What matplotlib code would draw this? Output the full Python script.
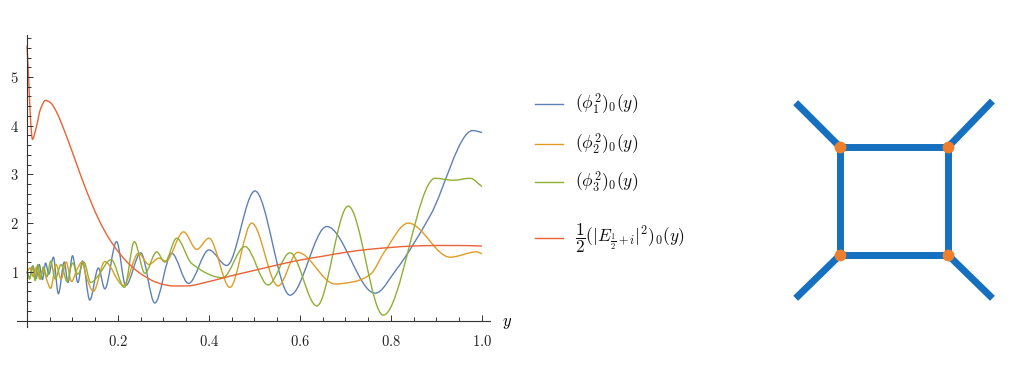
import numpy as np
import matplotlib
matplotlib.use("Agg")
import matplotlib.pyplot as plt
from matplotlib.path import Path
from matplotlib.patches import PathPatch
from matplotlib.lines import Line2D
from matplotlib.ticker import MultipleLocator, FixedLocator, FuncFormatter

plt.rcParams["mathtext.fontset"] = "cm"
plt.rcParams["font.family"] = ["cmr10", "DejaVu Serif"]

# values (extrema and a few in-between points)
phi1_x = [0, 0.006, 0.013, 0.020, 0.027, 0.034, 0.041, 0.048, 0.058, 0.069, 0.082, 0.090,
          0.100, 0.112, 0.122, 0.138, 0.157, 0.171, 0.197, 0.217, 0.250, 0.281, 0.318,
          0.355, 0.400, 0.439, 0.501, 0.578, 0.659, 0.765, 0.812, 0.886, 0.980, 1.0]
phi1_y = [1.0, 0.88, 1.12, 0.86, 1.15, 0.84, 1.18, 0.95, 1.3, 0.55, 1.2, 0.78,
          1.33, 0.78, 1.22, 0.42, 1.08, 0.65, 1.62, 0.72, 1.39, 0.36, 1.38,
          0.76, 1.45, 1.13, 2.66, 0.52, 1.93, 0.56, 1.05, 2.15, 3.9, 3.86]

phi2_x = [0, 0.007, 0.014, 0.021, 0.028, 0.036, 0.044, 0.052, 0.064, 0.075, 0.086, 0.098,
          0.110, 0.121, 0.132, 0.146, 0.171, 0.212, 0.245, 0.268, 0.290, 0.305, 0.344,
          0.373, 0.400, 0.446, 0.494, 0.552, 0.595, 0.677, 0.720, 0.755, 0.785, 0.838,
          0.930, 0.988, 1.0]
phi2_y = [1.0, 1.08, 0.9, 1.1, 0.85, 1.05, 0.82, 0.66, 1.15, 0.85, 1.2, 0.8,
          1.05, 1.2, 0.85, 0.6, 1.21, 0.72, 1.38, 1.15, 1.28, 1.22, 1.82,
          1.46, 1.69, 0.68, 2.0, 0.71, 1.4, 0.75, 0.8, 0.95, 1.4, 2.0,
          1.3, 1.41, 1.37]

phi3_x = [0, 0.006, 0.012, 0.018, 0.024, 0.030, 0.036, 0.044, 0.052, 0.062, 0.075, 0.088,
          0.100, 0.112, 0.125, 0.140, 0.155, 0.185, 0.214, 0.236, 0.259, 0.285, 0.303,
          0.329, 0.362, 0.430, 0.479, 0.530, 0.578, 0.637, 0.706, 0.783, 0.897, 0.937,
          0.974, 1.0]
phi3_y = [1.0, 0.85, 1.12, 0.82, 1.15, 0.85, 1.1, 0.9, 1.22, 0.85, 1.15, 0.8,
          1.18, 0.95, 1.2, 0.78, 0.9, 1.25, 0.68, 1.62, 0.97, 1.41, 1.2,
          1.69, 1.17, 0.88, 1.52, 0.73, 1.39, 0.3, 2.35, 0.11, 2.92, 2.88,
          2.92, 2.75]

e_x = [0.0, 0.004, 0.008, 0.012, 0.020, 0.030, 0.041, 0.052, 0.065, 0.080, 0.100, 0.120,
       0.140, 0.160, 0.180, 0.200, 0.220, 0.240, 0.260, 0.280, 0.300, 0.320, 0.350,
       0.400, 0.450, 0.500, 0.550, 0.600, 0.650, 0.700, 0.750, 0.800, 0.850, 0.900,
       0.950, 1.0]
e_y = [5.65, 4.9, 4.1, 3.72, 3.95, 4.35, 4.52, 4.47, 4.28, 3.95, 3.45, 2.93,
       2.45, 2.03, 1.69, 1.42, 1.2, 1.03, 0.9, 0.8, 0.74, 0.71, 0.71,
       0.8, 0.92, 1.03, 1.14, 1.24, 1.32, 1.4, 1.46, 1.5, 1.53, 1.54,
       1.54, 1.53]

labels = [r"$(\phi_1^2)_0(y)$", r"$(\phi_2^2)_0(y)$", r"$(\phi_3^2)_0(y)$",
          r"$\dfrac{1}{2}(|E_{\frac{1}{2}+i}|^2)_0(y)$"]
colors = ["#5E81B5", "#E19C24", "#8FB032", "#EB6235"]

# box diagram: square corners and the outer legs
node_x = [-1, 1, 1, -1]
node_y = [1, 1, -1, -1]
leg_x = [-1.82, 1.82, 1.82, -1.82]
leg_y = [1.82, 1.85, -1.8, -1.8]


def smooth_path(xs, ys):
    # monotone cubic through the read points, drawn as bezier segments
    x = np.asarray(xs, float)
    y = np.asarray(ys, float)
    h = np.diff(x)
    d = np.diff(y) / h
    m = np.zeros_like(y)
    m[0], m[-1] = d[0], d[-1]
    for i in range(1, len(x) - 1):
        if d[i - 1] * d[i] > 0:
            w1 = 2 * h[i] + h[i - 1]
            w2 = h[i] + 2 * h[i - 1]
            m[i] = (w1 + w2) / (w1 / d[i - 1] + w2 / d[i])
    verts = [(x[0], y[0])]
    codes = [Path.MOVETO]
    for i in range(len(x) - 1):
        verts += [(x[i] + h[i] / 3, y[i] + m[i] * h[i] / 3),
                  (x[i + 1] - h[i] / 3, y[i + 1] - m[i + 1] * h[i] / 3),
                  (x[i + 1], y[i + 1])]
        codes += [Path.CURVE4] * 3
    return Path(verts, codes)


fig = plt.figure(figsize=(10.24, 3.92), dpi=100)
ax = fig.add_axes([0.0163, 0.1666, 0.4622, 0.7441])

series = [(phi1_x, phi1_y), (phi2_x, phi2_y), (phi3_x, phi3_y), (e_x, e_y)]
for (sx, sy), c in zip(series, colors):
    ax.add_patch(PathPatch(smooth_path(sx, sy), fill=False, edgecolor=c, lw=1.0,
                           joinstyle="round"))

ax.set_xlim(-0.0226, 1.0176)
ax.set_ylim(-0.127, 5.862)
for s in ["top", "right"]:
    ax.spines[s].set_visible(False)
ax.spines["left"].set_position(("data", 0))
ax.spines["bottom"].set_position(("data", 0))
for s in ["left", "bottom"]:
    ax.spines[s].set_linewidth(0.8)
    ax.spines[s].set_color("#333333")

ax.xaxis.set_major_locator(FixedLocator([0.2, 0.4, 0.6, 0.8, 1.0]))
ax.xaxis.set_minor_locator(MultipleLocator(0.05))
ax.yaxis.set_major_locator(FixedLocator([1, 2, 3, 4, 5]))
ax.yaxis.set_minor_locator(MultipleLocator(0.2))
ax.xaxis.set_major_formatter(FuncFormatter(lambda v, p: f"${v:.1f}$"))
ax.yaxis.set_major_formatter(FuncFormatter(lambda v, p: f"${v:.0f}$"))
ax.tick_params(which="both", direction="in", color="#333333", width=0.7,
               labelsize=10.5, labelcolor="#222222")
ax.tick_params(which="major", length=4.5)
ax.tick_params(which="minor", length=2.6)
ax.tick_params(axis="x", pad=10)
ax.tick_params(axis="y", pad=6)
ax.text(1.055, -0.05, "$y$", fontsize=12, ha="center", va="center", clip_on=False)

# legend drawn by hand to keep the uneven spacing
leg_rows = [104, 144, 182, 238]
for yy, c, lab in zip(leg_rows, colors, labels):
    fy = 1 - yy / 392
    fig.add_artist(Line2D([535 / 1024, 563 / 1024], [fy, fy], color=c, lw=1.0,
                          transform=fig.transFigure))
    fig.text(575 / 1024, fy, lab, fontsize=12.5, va="center", ha="left",
             color="#111111")

# box diagram
dax = fig.add_axes([0.7559, 0.1811, 0.2344, 0.6122])
dax.set_xlim(-2.22, 2.22)
dax.set_ylim(-2.22, 2.22)
dax.axis("off")
blue = "#1570BF"
for nx, ny, lx, ly in zip(node_x, node_y, leg_x, leg_y):
    dax.plot([nx, lx], [ny, ly], color=blue, lw=5.0, solid_capstyle="butt")
dax.plot(node_x + node_x[:1], node_y + node_y[:1], color=blue, lw=5.0,
         solid_joinstyle="miter")
dax.plot(node_x, node_y, "o", color="#EE7F2D", ms=8.5, mec="none", zorder=5)

fig.savefig("out.png", dpi=100)
